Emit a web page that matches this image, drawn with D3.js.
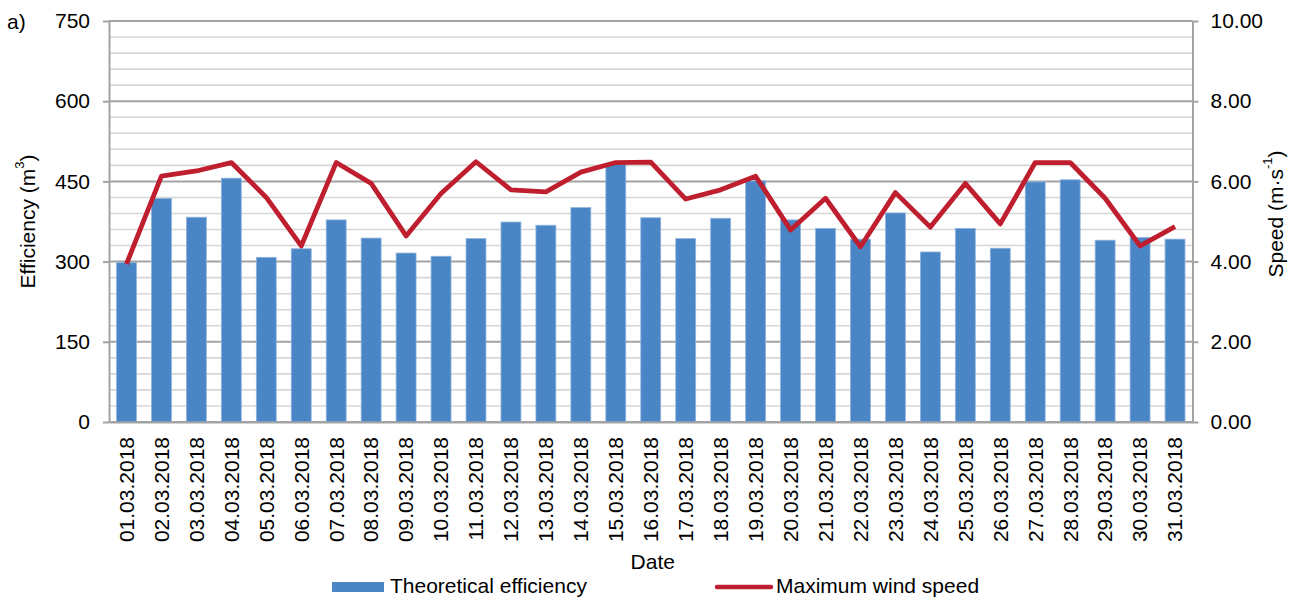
<!DOCTYPE html>
<html>
<head>
<meta charset="utf-8">
<script src="https://cdn.jsdelivr.net/npm/d3@7"></script>
<style>
  html, body { margin: 0; padding: 0; background: #fff; }
  svg { display: block; font-family: "Liberation Sans", Arial, sans-serif; }
</style>
</head>
<body>
<svg id="chart" width="1299" height="598"></svg>
<script>
const dates = ["01.03.2018","02.03.2018","03.03.2018","04.03.2018","05.03.2018","06.03.2018","07.03.2018","08.03.2018","09.03.2018","10.03.2018","11.03.2018","12.03.2018","13.03.2018","14.03.2018","15.03.2018","16.03.2018","17.03.2018","18.03.2018","19.03.2018","20.03.2018","21.03.2018","22.03.2018","23.03.2018","24.03.2018","25.03.2018","26.03.2018","27.03.2018","28.03.2018","29.03.2018","30.03.2018","31.03.2018"];
const efficiency = [298, 418, 383, 456, 308, 324, 378, 344, 316, 310, 343, 374, 368, 401, 482, 382, 343, 381, 451, 378, 362, 342, 391, 318, 362, 325, 449, 453, 340, 345, 342];
const windSpeed = [3.94, 6.13, 6.26, 6.47, 5.60, 4.39, 6.47, 5.95, 4.64, 5.70, 6.49, 5.79, 5.74, 6.23, 6.47, 6.48, 5.56, 5.79, 6.13, 4.79, 5.58, 4.37, 5.72, 4.86, 5.95, 4.94, 6.47, 6.47, 5.58, 4.39, 4.87];
const leftTicks = [0, 150, 300, 450, 600, 750];
const rightTicks = [0, 2, 4, 6, 8, 10];
const seriesNames = ["Theoretical efficiency", "Maximum wind speed"];

const svg = d3.select("#chart");
const L = 109, R = 1192.5, T = 21, B = 422;
const FS = 21;
const barColor = "#4a86c6", lineColor = "#be1e2d";

const x = d3.scaleBand().domain(dates).range([L, R]).padding(0);
const yL = d3.scaleLinear().domain([0, 750]).range([B, T]);
const yR = d3.scaleLinear().domain([0, 10]).range([B, T]);

// gridlines
const grid = svg.append("g");
grid.selectAll("line").data(d3.range(0, 751, 30)).join("line")
  .attr("x1", L).attr("x2", R)
  .attr("y1", d => yL(d)).attr("y2", d => yL(d))
  .attr("stroke", d => d % 150 === 0 ? "#a3a3a3" : "#d6d6d6")
  .attr("stroke-width", d => d % 150 === 0 ? 2 : 1.6);

// bars
const bw = x.bandwidth();
svg.append("g").selectAll("rect").data(efficiency).join("rect")
  .attr("x", (d, i) => x(dates[i]) + bw * 0.215)
  .attr("width", bw * 0.57)
  .attr("y", d => yL(d))
  .attr("height", d => B - yL(d))
  .attr("fill", barColor)
  .attr("stroke", "#8fb3de").attr("stroke-width", 0.8);

// line
const line = d3.line()
  .x((d, i) => x(dates[i]) + bw / 2)
  .y(d => yR(d));
svg.append("path").datum(windSpeed)
  .attr("d", line)
  .attr("fill", "none")
  .attr("stroke", lineColor)
  .attr("stroke-width", 4.8)
  .attr("stroke-linejoin", "round");

function styleAxis(g) {
  g.selectAll(".domain").attr("stroke", "#a3a3a3").attr("stroke-width", 2);
  g.selectAll(".tick line").attr("stroke", "#a3a3a3").attr("stroke-width", 2);
  g.selectAll("text").attr("font-size", FS).attr("fill", "#000").attr("font-family", "Liberation Sans, Arial, sans-serif");
}

// left axis
const gl = svg.append("g").attr("transform", `translate(${L},0)`)
  .call(d3.axisLeft(yL).tickValues(leftTicks).tickSizeInner(6).tickSizeOuter(0).tickPadding(13));
styleAxis(gl);

// right axis
const gr = svg.append("g").attr("transform", `translate(${R},0)`)
  .call(d3.axisRight(yR).tickValues(rightTicks).tickFormat(d3.format(".2f")).tickSizeInner(6).tickSizeOuter(0).tickPadding(12));
styleAxis(gr);

// bottom axis
const gb = svg.append("g").attr("transform", `translate(0,${B})`)
  .call(d3.axisBottom(x).tickSize(0).tickSizeOuter(0));
styleAxis(gb);
gb.selectAll("text")
  .attr("transform", "rotate(-90)")
  .attr("x", -15).attr("y", 0).attr("dy", "0.35em")
  .attr("text-anchor", "end");

// axis titles
svg.append("text").attr("transform", `translate(27,${(T + B) / 2}) rotate(-90)`)
  .attr("text-anchor", "middle").attr("dominant-baseline", "central")
  .attr("font-size", FS)
  .html('Efficiency (m<tspan baseline-shift="super" font-size="13">3</tspan>)');
svg.append("text").attr("transform", `translate(1275,214) rotate(-90)`)
  .attr("text-anchor", "middle").attr("dominant-baseline", "central")
  .attr("font-size", FS)
  .html('Speed (m·s<tspan baseline-shift="super" font-size="13">-1</tspan>)');
svg.append("text").attr("x", (L + R) / 2 + 2).attr("y", 569)
  .attr("text-anchor", "middle").attr("font-size", FS).text("Date");
svg.append("text").attr("x", 7).attr("y", 29)
  .attr("font-size", FS).text("a)");

// legend
const lg = svg.append("g");
lg.append("rect").attr("x", 332).attr("y", 582).attr("width", 52).attr("height", 10).attr("fill", barColor);
lg.append("text").attr("x", 390).attr("y", 593).attr("font-size", FS).text(seriesNames[0]);
lg.append("line").attr("x1", 717).attr("x2", 771).attr("y1", 587).attr("y2", 587)
  .attr("stroke", lineColor).attr("stroke-width", 4.5).attr("stroke-linecap", "round");
lg.append("text").attr("x", 776).attr("y", 593).attr("font-size", FS).text(seriesNames[1]);
</script>
</body>
</html>
